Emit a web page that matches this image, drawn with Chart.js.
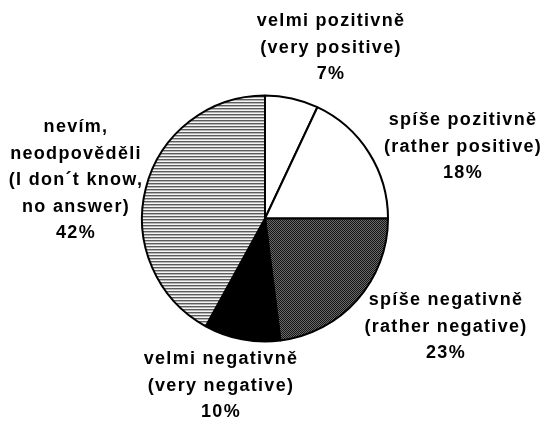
<!DOCTYPE html>
<html>
<head>
<meta charset="utf-8">
<script src="https://cdn.jsdelivr.net/npm/chart.js@4/dist/chart.umd.min.js"></script>
<style>
    html, body { margin: 0; padding: 0; background: #ffffff; }
    #wrap { width: 542px; height: 422px; }
</style>
</head>
<body>
<div id="wrap"><canvas id="pieChart" width="542" height="422"></canvas></div>
<script>
// Opinion shares, clockwise from 12 o'clock
const categoriesCz = [
    ['velmi pozitivně'],
    ['spíše pozitivně'],
    ['spíše negativně'],
    ['velmi negativně'],
    ['nevím,', 'neodpověděli']
];
const categoriesEn = [
    ['(very positive)'],
    ['(rather positive)'],
    ['(rather negative)'],
    ['(very negative)'],
    ['(I don´t know,', 'no answer)']
];
const shares = [7, 18, 23, 10, 42];

// Label block placement, relative to the pie centre (first line centre)
const labelOffsets = [
    [66, -197],
    [198, -98],
    [181, 82],
    [-44, 141],
    [-189, -91]
];

function makePattern(rows) {
    const c = document.createElement('canvas');
    c.width = rows[0].length;
    c.height = rows.length;
    const g = c.getContext('2d');
    rows.forEach((row, y) => {
        row.forEach((col, x) => {
            g.fillStyle = col;
            g.fillRect(x, y, 1, 1);
        });
    });
    return g.createPattern(c, 'repeat');
}

const ctx = document.getElementById('pieChart').getContext('2d');

// Dark dithered fill and horizontal hatching
const dotted = makePattern([
    ['#141414', '#6a6a6a'],
    ['#6a6a6a', '#141414']
]);
const striped = makePattern([
    ['#5c5c5c'],
    ['#b4b4b4'],
    ['#f4f4f4']
]);

const fills = ['#ffffff', '#ffffff', dotted, '#000000', striped];

const labelPlugin = {
    id: 'sliceLabels',
    afterDraw(chart) {
        const arc = chart.getDatasetMeta(0).data[0];
        if (!arc) return;
        const c = chart.ctx;
        c.save();
        c.font = 'bold 18px "Liberation Sans", Arial, sans-serif';
        c.letterSpacing = '1.3px';
        c.fillStyle = '#000000';
        c.textAlign = 'center';
        c.textBaseline = 'middle';
        const lineH = 26.5;
        shares.forEach((v, i) => {
            const lines = [...categoriesCz[i], ...categoriesEn[i], v + '%'];
            const x = arc.x + labelOffsets[i][0];
            const y0 = arc.y + labelOffsets[i][1];
            lines.forEach((t, k) => c.fillText(t, x, y0 + k * lineH));
        });
        c.restore();
    }
};

new Chart(ctx, {
    type: 'pie',
    data: {
        labels: categoriesCz,
        datasets: [{
            data: shares,
            backgroundColor: fills,
            borderColor: '#000000',
            borderWidth: 2
        }]
    },
    options: {
        responsive: false,
        animation: false,
        events: [],
        layout: {
            padding: { left: 141, right: 153, top: 94, bottom: 79 }
        },
        plugins: {
            legend: { display: false },
            tooltip: { enabled: false },
            title: { display: false }
        }
    },
    plugins: [labelPlugin]
});
</script>
</body>
</html>
